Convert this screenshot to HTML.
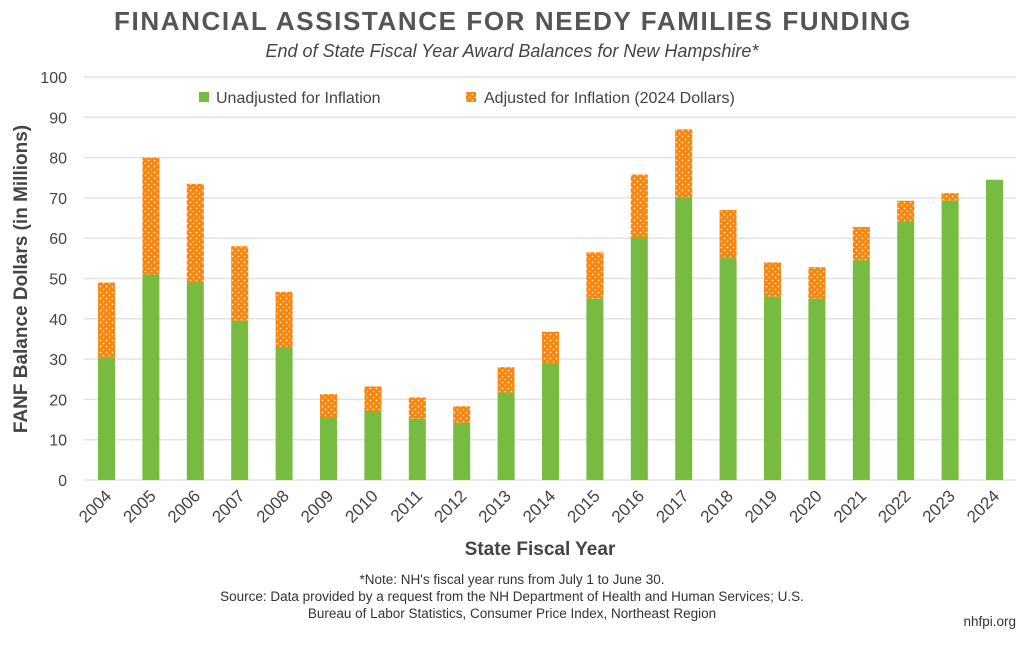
<!DOCTYPE html>
<html><head><meta charset="utf-8"><style>
body{margin:0;background:#fff;}
svg text{font-family:"Liberation Sans",sans-serif;}
</style></head><body>
<svg width="1024" height="640" viewBox="0 0 1024 640" xmlns="http://www.w3.org/2000/svg">
<defs>
<pattern id="dots" width="6" height="6" patternUnits="userSpaceOnUse">
<rect width="6" height="6" fill="#f7860f"/>
<circle cx="1.5" cy="1.5" r="0.9" fill="#fde2c4"/>
<circle cx="4.5" cy="4.5" r="0.9" fill="#fde2c4"/>
</pattern>
</defs>
<text x="513" y="30" text-anchor="middle" font-size="26" font-weight="bold" fill="#555" letter-spacing="1.6">FINANCIAL ASSISTANCE FOR NEEDY FAMILIES FUNDING</text>
<text x="512" y="57" text-anchor="middle" font-size="18" font-style="italic" fill="#444">End of State Fiscal Year Award Balances for New Hampshire*</text>
<g id="grid" stroke="#e3e3e3" stroke-width="1.5"></g>
<g id="ylab" font-size="16" fill="#444" text-anchor="end"></g>
<g id="bars"></g>
<g id="xlab" font-size="17" fill="#444" text-anchor="end"></g>
<rect x="199" y="92" width="10" height="10" fill="#77bb41"/>
<text x="216" y="103" font-size="16" fill="#444">Unadjusted for Inflation</text>
<rect x="466" y="92" width="10" height="10" fill="url(#dots)"/>
<text x="484" y="103" font-size="16" fill="#444">Adjusted for Inflation (2024 Dollars)</text>
<text x="27" y="279" transform="rotate(-90 27 279)" text-anchor="middle" font-size="19" font-weight="bold" fill="#444">FANF Balance Dollars (in Millions)</text>
<text x="540" y="555" text-anchor="middle" font-size="19" font-weight="bold" fill="#444">State Fiscal Year</text>
<text x="512" y="584" text-anchor="middle" font-size="13.5" fill="#333">*Note: NH's fiscal year runs from July 1 to June 30.</text>
<text x="512" y="601" text-anchor="middle" font-size="13.5" fill="#333">Source: Data provided by a request from the NH Department of Health and Human Services; U.S.</text>
<text x="512" y="618" text-anchor="middle" font-size="13.5" fill="#333">Bureau of Labor Statistics, Consumer Price Index, Northeast Region</text>
<text x="1016" y="626" text-anchor="end" font-size="13.5" fill="#333">nhfpi.org</text>
</svg>
<script>
var ns="http://www.w3.org/2000/svg";
function el(p,t,a,txt){var e=document.createElementNS(ns,t);for(var k in a)e.setAttribute(k,a[k]);if(txt!==undefined)e.textContent=txt;document.getElementById(p).appendChild(e);}
var y0=480,s=4.03;
for(var i=0;i<=10;i++){var y=y0-i*10*s;el("grid","line",{x1:84,x2:1016,y1:y,y2:y});el("ylab","text",{x:67,y:y+6},i*10);}
var u=[30.3,51,49,39.5,33,15.5,17,15.2,14.2,21.7,29,45,60.3,70.2,55,45.5,45,54.5,64,69.3,74.5];
var a=[49,80,73.5,58,46.7,21.3,23.2,20.5,18.3,28,36.8,56.5,75.8,87,67,54,52.8,62.8,69.3,71.2,74.5];
for(var i=0;i<21;i++){var cx=106.5+i*44.4,x=cx-8.5;
el("bars","rect",{x:x,y:y0-a[i]*s,width:17,height:(a[i]-u[i])*s,fill:"url(#dots)"});
el("bars","rect",{x:x,y:y0-u[i]*s,width:17,height:u[i]*s,fill:"#77bb41"});
el("xlab","text",{x:cx+6,y:497,transform:"rotate(-45 "+(cx+6)+" 497)"},2004+i);}
</script>
</body></html>
